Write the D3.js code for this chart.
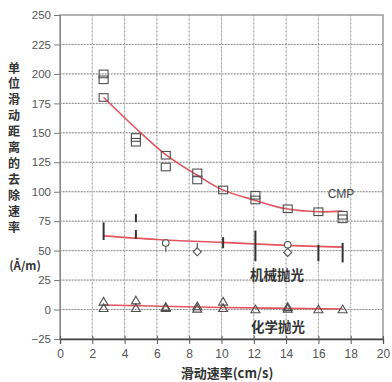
<!DOCTYPE html>
<html><head><meta charset="utf-8">
<script src="https://cdn.jsdelivr.net/npm/d3@7"></script>
<style>body{margin:0;background:#fff}svg{display:block}</style>
</head><body>
<svg id="c" width="392" height="382"></svg>
<script>
const xTicks = [0,2,4,6,8,10,12,14,16,18,20];
const yTicks = [-25,0,25,50,75,100,125,150,175,200,225,250];
const cmpPoints = [[2.7,200],[2.7,195],[2.7,180],[4.7,146],[4.7,142],[6.55,131],[6.55,121],[8.5,116],[8.5,110],[10.1,101.5],[12.1,97],[12.1,93],[14.1,85.5],[16,83],[17.5,80],[17.5,77]];
const cmpFit = [[2.7,180],[5,150],[6.5,132],[8.5,114],[10,102],[12,93],[14,85.5],[16,83],[17.5,83.5]];
const mechBars = [[2.7,59,74],[4.7,74,81],[4.7,60,67.5],[10.1,52,61.5],[12.1,41,67],[16,41,55],[17.5,40,56.5]];
const mechWhiskers = [[6.55,49,56.5],[8.5,49,56.5]];
const mechCircles = [[6.55,56.5],[14.1,55]];
const mechDiamonds = [[8.5,49],[14.1,48.5]];
const mechFit = [[2.7,62.5],[6,59.5],[10,57],[14,54.5],[17.5,53]];
const chemTriangles = [[2.7,6.5],[2.7,1],[4.7,7.5],[4.7,1],[6.55,2],[6.55,1],[8.5,2.5],[8.5,0.5],[10.1,6.5],[10.1,1],[12.1,0],[14.1,2],[14.1,0.5],[16,0],[17.5,0]];
const chemFit = [[2.7,3.8],[10,1.8],[17.5,0.5]];
const yLabelChars = ["单","位","滑","动","距","离","的","去","除","速","率"];
const yUnit = "(Å/m)";
const xLabel = "滑动速率(cm/s)";
const seriesLabels = ["CMP","机械抛光","化学抛光"];

const svg = d3.select("#c");
const L=60,R=383,T=15,B=339;
const x = d3.scaleLinear([0,20],[L,R]);
const y = d3.scaleLinear([-25,250],[B,T]);
const cjk = '"Noto Sans CJK SC", sans-serif';
const latin = '"Liberation Sans", Arial, sans-serif';

// grid
const g = svg.append("g");
g.selectAll(".vg").data(xTicks.filter(d=>d>0&&d<20)).join("line")
  .attr("x1",d=>x(d)).attr("x2",d=>x(d)).attr("y1",T).attr("y2",B)
  .attr("stroke","#cfcfcf").attr("stroke-width",1);
g.selectAll(".vd").data(xTicks.filter(d=>d>0&&d<20)).join("line")
  .attr("x1",d=>x(d)).attr("x2",d=>x(d)).attr("y1",T).attr("y2",B)
  .attr("stroke","#999").attr("stroke-width",1).attr("stroke-dasharray","1,3");
g.selectAll(".hg").data(yTicks.filter(d=>d>-25&&d<250)).join("line")
  .attr("x1",L).attr("x2",R).attr("y1",d=>y(d)).attr("y2",d=>y(d))
  .attr("stroke","#d5d5d5").attr("stroke-width",1);
g.selectAll(".hd").data(yTicks.filter(d=>d>-25&&d<250)).join("line")
  .attr("x1",L).attr("x2",R).attr("y1",d=>y(d)).attr("y2",d=>y(d))
  .attr("stroke","#8a8a8a").attr("stroke-width",1).attr("stroke-dasharray","1.5,1.5");

// frame
svg.append("rect").attr("x",L).attr("y",T).attr("width",R-L).attr("height",B-T)
  .attr("fill","none").attr("stroke","#9a9a9a").attr("stroke-width",1.5);

// axes
const ya = svg.append("g").attr("transform",`translate(${L},0)`)
  .call(d3.axisLeft(y).tickValues(yTicks).tickSize(6).tickFormat(d=>d<0?"\u2212"+Math.abs(d):d));
ya.select(".domain").attr("stroke","#888");
ya.selectAll(".tick line").attr("stroke","#777");
ya.selectAll(".tick text").attr("font-family",latin).attr("font-size",11.5).attr("fill","#555").attr("x",-9);

const xa = svg.append("g").attr("transform",`translate(0,${B})`)
  .call(d3.axisBottom(x).tickValues(xTicks).tickSize(5));
xa.select(".domain").attr("stroke","#444").attr("stroke-width",1.3);
xa.selectAll(".tick line").attr("stroke","#555").attr("y1",-3);
xa.selectAll(".tick text").attr("font-family",latin).attr("font-size",12).attr("fill","#555").attr("y",10);

// fit lines
const line = d3.line().x(d=>x(d[0])).y(d=>y(d[1])).curve(d3.curveCatmullRom);
[cmpFit,mechFit,chemFit].forEach(f=>{
  svg.append("path").attr("d",line(f)).attr("fill","none").attr("stroke","#e0414e").attr("stroke-width",1.6).attr("opacity",0.9);
});

const mk = "#505050";
// CMP squares
svg.selectAll(".sq").data(cmpPoints).join("rect")
  .attr("x",d=>x(d[0])-4.5).attr("y",d=>y(d[1])-3.8).attr("width",9).attr("height",7.6)
  .attr("fill","none").attr("stroke",mk).attr("stroke-width",1.1);

// mech bars
svg.selectAll(".bar").data(mechBars).join("line")
  .attr("x1",d=>x(d[0])).attr("x2",d=>x(d[0])).attr("y1",d=>y(d[1])).attr("y2",d=>y(d[2]))
  .attr("stroke","#333").attr("stroke-width",2);
svg.selectAll(".wh").data(mechWhiskers).join("line")
  .attr("x1",d=>x(d[0])).attr("x2",d=>x(d[0])).attr("y1",d=>y(d[1])).attr("y2",d=>y(d[2]))
  .attr("stroke","#555").attr("stroke-width",1.2);
svg.selectAll(".ci").data(mechCircles).join("circle")
  .attr("cx",d=>x(d[0])).attr("cy",d=>y(d[1])).attr("r",3.3)
  .attr("fill","#fff").attr("stroke",mk).attr("stroke-width",1.1);
svg.selectAll(".di").data(mechDiamonds).join("path")
  .attr("d",d=>{const cx=x(d[0]),cy=y(d[1]);return `M${cx},${cy-4}L${cx+4},${cy}L${cx},${cy+4}L${cx-4},${cy}Z`;})
  .attr("fill","#fff").attr("stroke",mk).attr("stroke-width",1.1);

// chem triangles
svg.selectAll(".tr").data(chemTriangles).join("path")
  .attr("d",d=>{const cx=x(d[0]),cy=y(d[1]);return `M${cx},${cy-4.5}L${cx+4.5},${cy+3.2}L${cx-4.5},${cy+3.2}Z`;})
  .attr("fill","none").attr("stroke",mk).attr("stroke-width",1.1);

// series labels
svg.append("text").attr("x",341).attr("y",198).attr("text-anchor","middle")
  .attr("font-family",latin).attr("font-size",12).attr("fill","#444").text(seriesLabels[0]);
svg.append("text").attr("x",277).attr("y",280).attr("text-anchor","middle")
  .attr("font-family",cjk).attr("font-weight","bold").attr("font-size",13.5).attr("fill","#333").text(seriesLabels[1]);
svg.append("text").attr("x",278).attr("y",332).attr("text-anchor","middle")
  .attr("font-family",cjk).attr("font-weight","bold").attr("font-size",13.5).attr("fill","#333").text(seriesLabels[2]);

// y label
svg.selectAll(".yl").data(yLabelChars).join("text")
  .attr("x",14).attr("y",(d,i)=>68+i*15.9+4.5).attr("text-anchor","middle")
  .attr("font-family",cjk).attr("font-weight","bold").attr("font-size",12).attr("fill","#333").text(d=>d);
svg.append("text").attr("x",25).attr("y",270).attr("text-anchor","middle")
  .attr("font-family",cjk).attr("font-weight","bold").attr("font-size",11.5).attr("fill","#333").text(yUnit);

// x label
svg.append("text").attr("x",227).attr("y",378).attr("text-anchor","middle")
  .attr("font-family",cjk).attr("font-weight","bold").attr("font-size",13).attr("fill","#333").text(xLabel);
</script>
</body></html>
